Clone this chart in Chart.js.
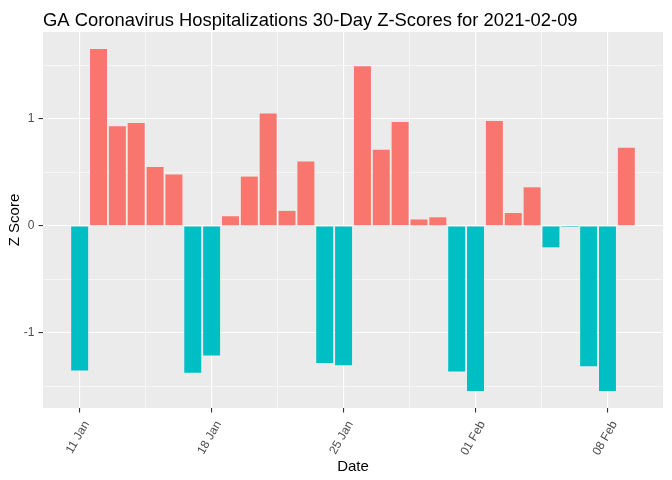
<!DOCTYPE html>
<html>
<head>
<meta charset="utf-8">
<script src="https://cdn.jsdelivr.net/npm/chart.js@4.4.1/dist/chart.umd.min.js"></script>
<style>
  html, body { margin: 0; padding: 0; background: #ffffff; }
  #wrap { width: 672px; height: 480px; }
</style>
</head>
<body>
<div id="wrap"><canvas id="zChart"></canvas></div>
<script>
// 30 days of z-scores, 11 Jan to 09 Feb 2021
const days = ['2021-01-11', '2021-01-12', '2021-01-13', '2021-01-14', '2021-01-15',
  '2021-01-16', '2021-01-17', '2021-01-18', '2021-01-19', '2021-01-20',
  '2021-01-21', '2021-01-22', '2021-01-23', '2021-01-24', '2021-01-25',
  '2021-01-26', '2021-01-27', '2021-01-28', '2021-01-29', '2021-01-30',
  '2021-01-31', '2021-02-01', '2021-02-02', '2021-02-03', '2021-02-04',
  '2021-02-05', '2021-02-06', '2021-02-07', '2021-02-08', '2021-02-09'];
const zScores = [-1.35, 1.65, 0.93, 0.96, 0.55,
  0.48, -1.37, -1.21, 0.09, 0.46,
  1.05, 0.14, 0.60, -1.28, -1.30,
  1.49, 0.71, 0.97, 0.06, 0.08,
  -1.36, -1.54, 0.98, 0.12, 0.36,
  -0.20, -0.01, -1.31, -1.54, 0.73];
const xTickLabels = ['11 Jan', '18 Jan', '25 Jan', '01 Feb', '08 Feb'];
const yTickValues = [-1, 0, 1];

const posColor = '#F8766D';
const negColor = '#00BFC4';
const font = 'Liberation Sans';

// ggplot style 5% expansion of the data range
const yMin = Math.min(...zScores), yMax = Math.max(...zScores);
const yPad = (yMax - yMin) * 0.05;
const xLo = -0.45, xHi = days.length - 1 + 0.45;
const xPad = (xHi - xLo) * 0.05;

const panelBg = {
  id: 'panelBg',
  beforeDraw(chart) {
    const a = chart.chartArea, c = chart.ctx;
    c.save();
    c.fillStyle = '#EBEBEB';
    c.fillRect(a.left, a.top, a.right - a.left, a.bottom - a.top);
    c.restore();
  },
  afterDraw(chart) {
    const c = chart.ctx;
    c.save();
    c.fillStyle = '#000000';
    c.font = '18.4px "' + font + '"';
    c.textBaseline = 'alphabetic';
    c.fillText('GA Coronavirus Hospitalizations 30-Day Z-Scores for 2021-02-09', 43, 25.5);
    c.restore();
  }
};

const isMajorX = v => v % 7 === 0;
const isMajorY = v => Number.isInteger(v);

new Chart(document.getElementById('zChart'), {
  type: 'bar',
  data: {
    datasets: [{
      data: zScores.map((v, i) => ({ x: i, y: v })),
      backgroundColor: zScores.map(v => v >= 0 ? posColor : negColor),
      barPercentage: 0.9,
      categoryPercentage: 1.0,
      borderWidth: 0
    }]
  },
  options: {
    responsive: true,
    maintainAspectRatio: false,
    animation: false,
    layout: { padding: { top: 32, right: 9, left: 0, bottom: 0 } },
    plugins: { legend: { display: false }, tooltip: { enabled: false } },
    scales: {
      x: {
        type: 'linear',
        offset: false,
        min: xLo - xPad,
        max: xHi + xPad,
        afterBuildTicks: scale => {
          const t = [];
          for (let v = 0; v <= 28; v += 3.5) t.push({ value: v });
          scale.ticks = t;
        },
        afterFit: scale => { scale.height = 72; },
        grid: {
          offset: false,
          color: '#FFFFFF',
          lineWidth: ctx => (ctx.tick && isMajorX(ctx.tick.value)) ? 1.1 : 0.55,
          tickColor: ctx => (ctx.tick && isMajorX(ctx.tick.value)) ? '#333333' : 'rgba(0,0,0,0)',
          tickLength: 4.5
        },
        border: { display: false },
        ticks: {
          autoSkip: false,
          minRotation: 60,
          maxRotation: 60,
          padding: 6,
          labelOffset: 7,
          color: '#4D4D4D',
          font: { family: font, size: 12 },
          callback: v => isMajorX(v) ? xTickLabels[v / 7] : ''
        },
        title: {
          display: true,
          text: 'Date',
          color: '#000000',
          font: { family: font, size: 15 },
          padding: { top: 0, bottom: 4 }
        }
      },
      y: {
        min: yMin - yPad,
        max: yMax + yPad,
        afterBuildTicks: scale => {
          scale.ticks = [-1.5, -1, -0.5, 0, 0.5, 1, 1.5].map(v => ({ value: v }));
        },
        afterFit: scale => { scale.width = 43; },
        grid: {
          color: '#FFFFFF',
          lineWidth: ctx => (ctx.tick && isMajorY(ctx.tick.value)) ? 1.1 : 0.55,
          tickColor: ctx => (ctx.tick && isMajorY(ctx.tick.value)) ? '#333333' : 'rgba(0,0,0,0)',
          tickLength: 4.5
        },
        border: { display: false },
        ticks: {
          padding: 4,
          color: '#4D4D4D',
          font: { family: font, size: 12 },
          callback: v => yTickValues.includes(v) ? String(v) : ''
        },
        title: {
          display: true,
          text: 'Z Score',
          color: '#000000',
          font: { family: font, size: 15 },
          padding: { top: 6, bottom: 0 }
        }
      }
    }
  },
  plugins: [panelBg]
});
</script>
</body>
</html>
